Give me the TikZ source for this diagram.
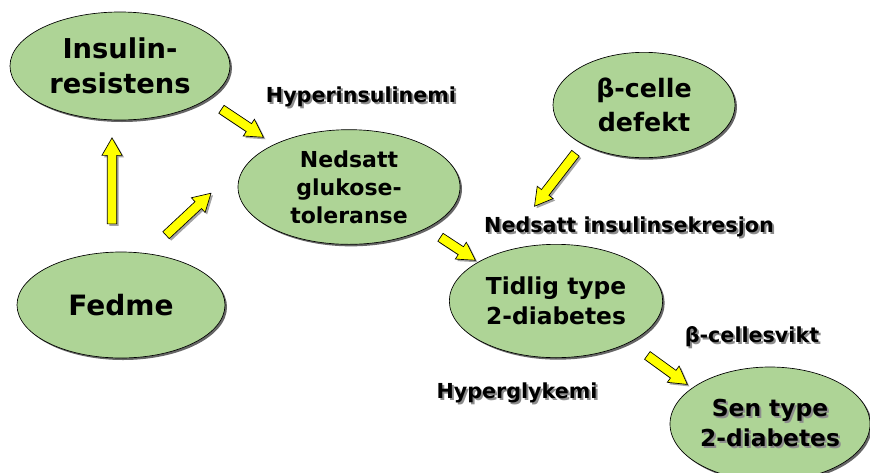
\documentclass[tikz,border=0pt]{standalone}
\usepackage{fontspec}
\setmainfont{DejaVu Sans}
\usetikzlibrary{calc,
                shadows,
                shapes.arrows, shapes.geometric
            }

\definecolor{bubblegreen}{RGB}{174,212,150}
\definecolor{arrowyellow}{RGB}{255,255,0}

% text with a soft grey shadow behind it
\newcommand\shtext[1]{\makebox[0pt][l]{\hspace{1.5pt}\raisebox{-1.5pt}{\textcolor{black!45}{#1}}}#1}
% fat yellow arrow from one named coordinate to another
\newcommand\fatarrow[2]{%
  \path let \p1=($(#2)-(#1)$), \n1={atan2(\y1,\x1)}, \n2={veclen(\x1,\y1)} in
    node[fatarrow, rotate=\n1, minimum height=\n2] at ($(#1)!0.5!(#2)$) {};}

\tikzset{
  bubble/.style={ellipse, draw=black, line width=0.5pt, fill=bubblegreen,
    inner sep=0pt, align=center,
    drop shadow={shadow xshift=1.5pt, shadow yshift=-1.5pt, fill=black!75, opacity=.8}},
  fatarrow/.style={single arrow, draw=black, line width=0.5pt, fill=arrowyellow,
    inner xsep=0pt, inner ysep=3.3pt, text height=0pt, text depth=0pt, text width=0pt,
    single arrow head extend=4pt, single arrow tip angle=60, single arrow head indent=0pt,
    drop shadow={shadow xshift=1.5pt, shadow yshift=-1.5pt, fill=black!45, opacity=.8}},
  tag/.style={font=\bfseries\fontsize{15.5}{18}\selectfont, anchor=base, inner sep=0pt}
}

\begin{document}
\begin{tikzpicture}[x=0.75pt, y=-0.75pt]
            \useasboundingbox (0,0) rectangle (870,472);

            \node[bubble, minimum width=165pt, minimum height=81pt,
                  font=\bfseries\fontsize{20.5}{26}\selectfont] (ins) at (120,66) {Insulin-\\resistens};
            \node[bubble, minimum width=166.5pt, minimum height=86pt,
                  font=\bfseries\fontsize{16.5}{21}\selectfont] (ngt) at (349,187) {Nedsatt\\glukose-\\toleranse};
            \node[bubble, minimum width=136.5pt, minimum height=79pt,
                  font=\bfseries\fontsize{19}{25}\selectfont] (beta) at (644,105) {β-celle\\defekt};
            \node[bubble, minimum width=156pt, minimum height=79.5pt,
                  font=\bfseries\fontsize{21}{26}\selectfont] (fed) at (121,305) {Fedme};
            \node[bubble, minimum width=160pt, minimum height=85pt,
                  font=\bfseries\fontsize{17.5}{22.5}\selectfont] (tid) at (556,301) {Tidlig type\\2-diabetes};
            \node[bubble, minimum width=150pt, minimum height=85.5pt,
                  font=\bfseries\fontsize{17.5}{22.5}\selectfont] (sen) at (770,424) {\shtext{Sen type}\\\shtext{2-diabetes}};

            \node[tag] (hins) at (361,102) {\shtext{Hyperinsulinemi}};
            \node[tag] (nsek) at (629,232) {\shtext{Nedsatt insulinsekresjon}};
            \node[tag] (bsvikt) at (752,342) {\shtext{β-cellesvikt}};
            \node[tag] (hgly) at (517,398) {\shtext{Hyperglykemi}};

            \coordinate (ins-ngt-s) at (218,107);
            \coordinate (ins-ngt-e) at (260,135);
            \coordinate (fed-ins-s) at (112,228);
            \coordinate (fed-ins-e) at (112,142);
            \coordinate (fed-ngt-s) at (163,238);
            \coordinate (fed-ngt-e) at (208,196);
            \coordinate (ngt-tid-s) at (437,235);
            \coordinate (ngt-tid-e) at (472,258);
            \coordinate (beta-tid-s) at (578,150);
            \coordinate (beta-tid-e) at (537,203);
            \coordinate (tid-sen-s) at (644,353);
            \coordinate (tid-sen-e) at (684,382);

            \fatarrow{ins-ngt-s}{ins-ngt-e}
            \fatarrow{fed-ins-s}{fed-ins-e}
            \fatarrow{fed-ngt-s}{fed-ngt-e}
            \fatarrow{ngt-tid-s}{ngt-tid-e}
            \fatarrow{beta-tid-s}{beta-tid-e}
            \fatarrow{tid-sen-s}{tid-sen-e}
        \end{tikzpicture}
\end{document}
